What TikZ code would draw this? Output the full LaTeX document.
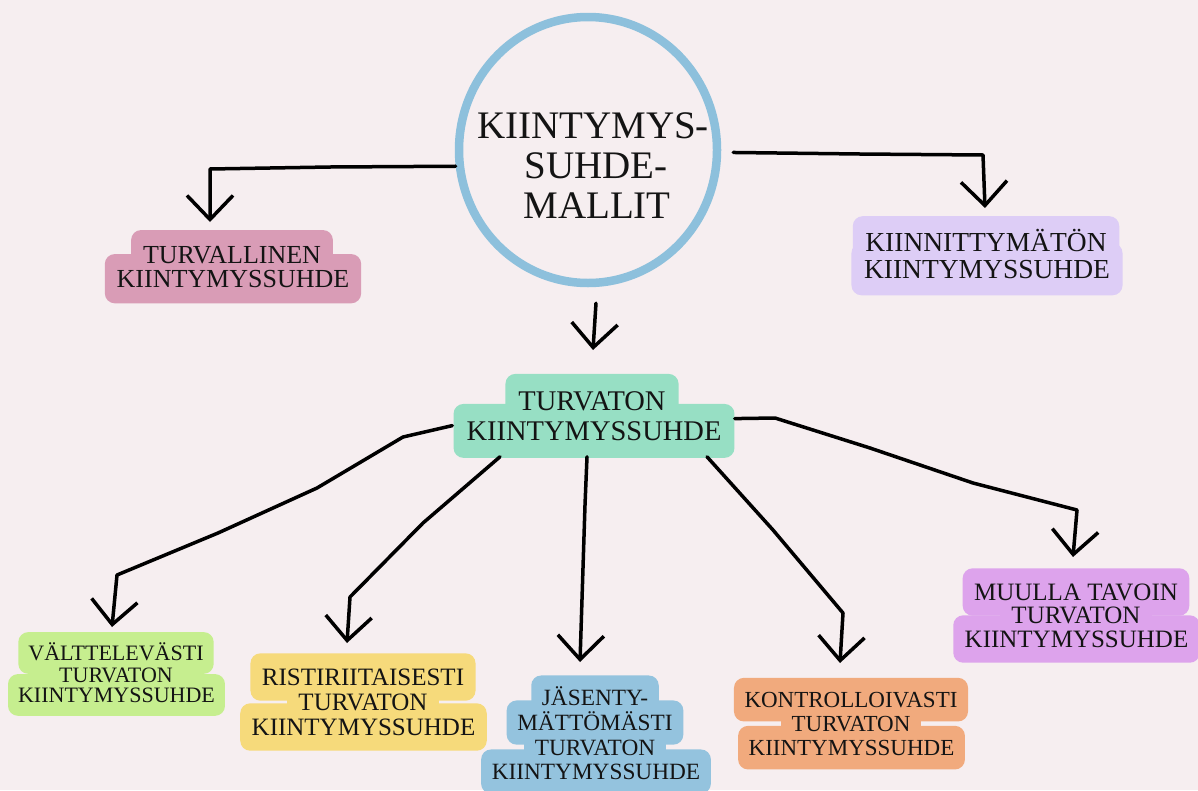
\documentclass[tikz,border=0pt]{standalone}
\usepackage{fontspec}
\setmainfont{Liberation Serif}
\usetikzlibrary{arrows.meta,shapes.geometric}
\pgfdeclarelayer{paper}
\pgfdeclarelayer{bg}
\pgfsetlayers{paper,bg,main}
\definecolor{paperc}{HTML}{F6EEF0}
\definecolor{hubc}{HTML}{8DC0DC}
\definecolor{pinkc}{HTML}{D99CB6}
\definecolor{lavc}{HTML}{DDCDF6}
\definecolor{mintc}{HTML}{97DFC4}
\definecolor{greenc}{HTML}{C6EE8F}
\definecolor{yellc}{HTML}{F6DA7B}
\definecolor{bluec}{HTML}{94C3DE}
\definecolor{orangec}{HTML}{F1AA7D}
\definecolor{violc}{HTML}{DDA3EC}
\definecolor{ink}{HTML}{141414}
\tikzset{
  lbl/.style={anchor=base, font=\fontsize{#1}{#1}\selectfont, inner sep=0pt,
    text height=#1*0.68pt, text depth=#1*0.02pt, text=ink},
  hubtext/.style={anchor=base, inner sep=0pt, text=ink, font=\fontsize{39}{39}\selectfont},
  conn/.style={draw=black, line width=3.5pt, line cap=round, line join=round,
    -{Straight Barb[length=24pt,width=46pt]}},
}
\begin{document}
\begin{tikzpicture}[x=1pt,y=-1pt]
\begin{pgfonlayer}{paper}
\fill[paperc] (0,0) rectangle (1198,790);
\end{pgfonlayer}
\useasboundingbox (0,0) rectangle (1198,790);

% hub
\node[ellipse, draw=hubc, line width=8.5pt, minimum width=258pt, minimum height=266pt, inner sep=0pt] (hub) at (588,150) {};
\node[hubtext] (h1) at (593,138) {KIINTYMYS-};
\node[hubtext] (h2) at (596,178) {SUHDE-};
\node[hubtext] (h3) at (597,218) {MALLIT};

% labels
\node[lbl=26] (tv1) at (232,263) {TURVALLINEN};
\node[lbl=26] (tv2) at (233,287) {KIINTYMYSSUHDE};

\node[lbl=27.5] (km1) at (986,251) {KIINNITTYMÄTÖN};
\node[lbl=27.5] (km2) at (987,278) {KIINTYMYSSUHDE};

\node[lbl=28.5] (tk1) at (592,410) {TURVATON};
\node[lbl=28.5] (tk2) at (594,440) {KIINTYMYSSUHDE};

\node[lbl=22] (vt1) at (116,660) {VÄLTTELEVÄSTI};
\node[lbl=22] (vt2) at (116,682) {TURVATON};
\node[lbl=22] (vt3) at (116.5,702) {KIINTYMYSSUHDE};

\node[lbl=25] (rt1) at (363,685) {RISTIRIITAISESTI};
\node[lbl=25] (rt2) at (363,710) {TURVATON};
\node[lbl=25] (rt3) at (363.5,735) {KIINTYMYSSUHDE};

\node[lbl=23.3] (jt1) at (595,705) {JÄSENTY-};
\node[lbl=23.3] (jt2) at (595,730) {MÄTTÖMÄSTI};
\node[lbl=23.3] (jt3) at (595,755) {TURVATON};
\node[lbl=23.3] (jt4) at (596,779) {KIINTYMYSSUHDE};

\node[lbl=23] (kt1) at (851,707) {KONTROLLOIVASTI};
\node[lbl=23] (kt2) at (851,731) {TURVATON};
\node[lbl=23] (kt3) at (851.5,755) {KIINTYMYSSUHDE};

\node[lbl=25] (mt1) at (1076,600) {MUULLA TAVOIN};
\node[lbl=25] (mt2) at (1076,623) {TURVATON};
\node[lbl=25] (mt3) at (1076.5,647) {KIINTYMYSSUHDE};

% highlight fills (one rounded strip per line)
\begin{pgfonlayer}{bg}
\foreach \n/\c/\s in {tv1/pinkc/26,tv2/pinkc/26,km1/lavc/27.5,km2/lavc/27.5,
  tk1/mintc/28.5,tk2/mintc/28.5,
  vt1/greenc/22,vt2/greenc/22,vt3/greenc/22,rt1/yellc/25,rt2/yellc/25,rt3/yellc/25,
  jt1/bluec/23.3,jt2/bluec/23.3,jt3/bluec/23.3,jt4/bluec/23.3,
  kt1/orangec/23,kt2/orangec/23,kt3/orangec/23,
  mt1/violc/25,mt2/violc/25,mt3/violc/25}
  \fill[\c, rounded corners=10pt]
    ([shift={(-0.45*\s,0.6*\s)}]\n.south west) rectangle ([shift={(0.45*\s,-0.58*\s)}]\n.north east);
\end{pgfonlayer}

% arrow tips
\coordinate (tipTV) at (210,222);
\coordinate (tipKM) at (985,208);
\coordinate (tipTK) at (593,350);
\coordinate (tipVT) at (112,627);
\coordinate (tipRT) at (347,643);
\coordinate (tipJT) at (580,662);
\coordinate (tipKT) at (840,663);
\coordinate (tipMT) at (1073,557);

% connectors
\draw[conn] (hub.187) -- (330,167) -- (210,169) -- (tipTV);
\draw[conn, shorten <=12pt] (hub.-1) -- (860,154) -- (983,155) -- (tipKM);
\draw[conn, shorten <=16pt] ([xshift=9pt]hub.south) -- (tipTK);

\draw[conn] ([shift={(-14,-5)}]tk2.west) -- (403,437) -- (317,488) -- (218,533) -- (117,575) -- (tipVT);
\draw[conn] ([shift={(-94,16)}]tk2.south) -- (423,523) -- (350,597) -- (tipRT);
\draw[conn] ([shift={(-7,16)}]tk2.south) -- (585,505) -- (tipJT);
\draw[conn] ([shift={(113,16)}]tk2.south) -- (773,530) -- (843,613) -- (tipKT);
\draw[conn] ([shift={(13,-12)}]tk2.east) -- (775,418) -- (870,448) -- (973,483) -- (1077,510) -- (tipMT);
\end{tikzpicture}
\end{document}
